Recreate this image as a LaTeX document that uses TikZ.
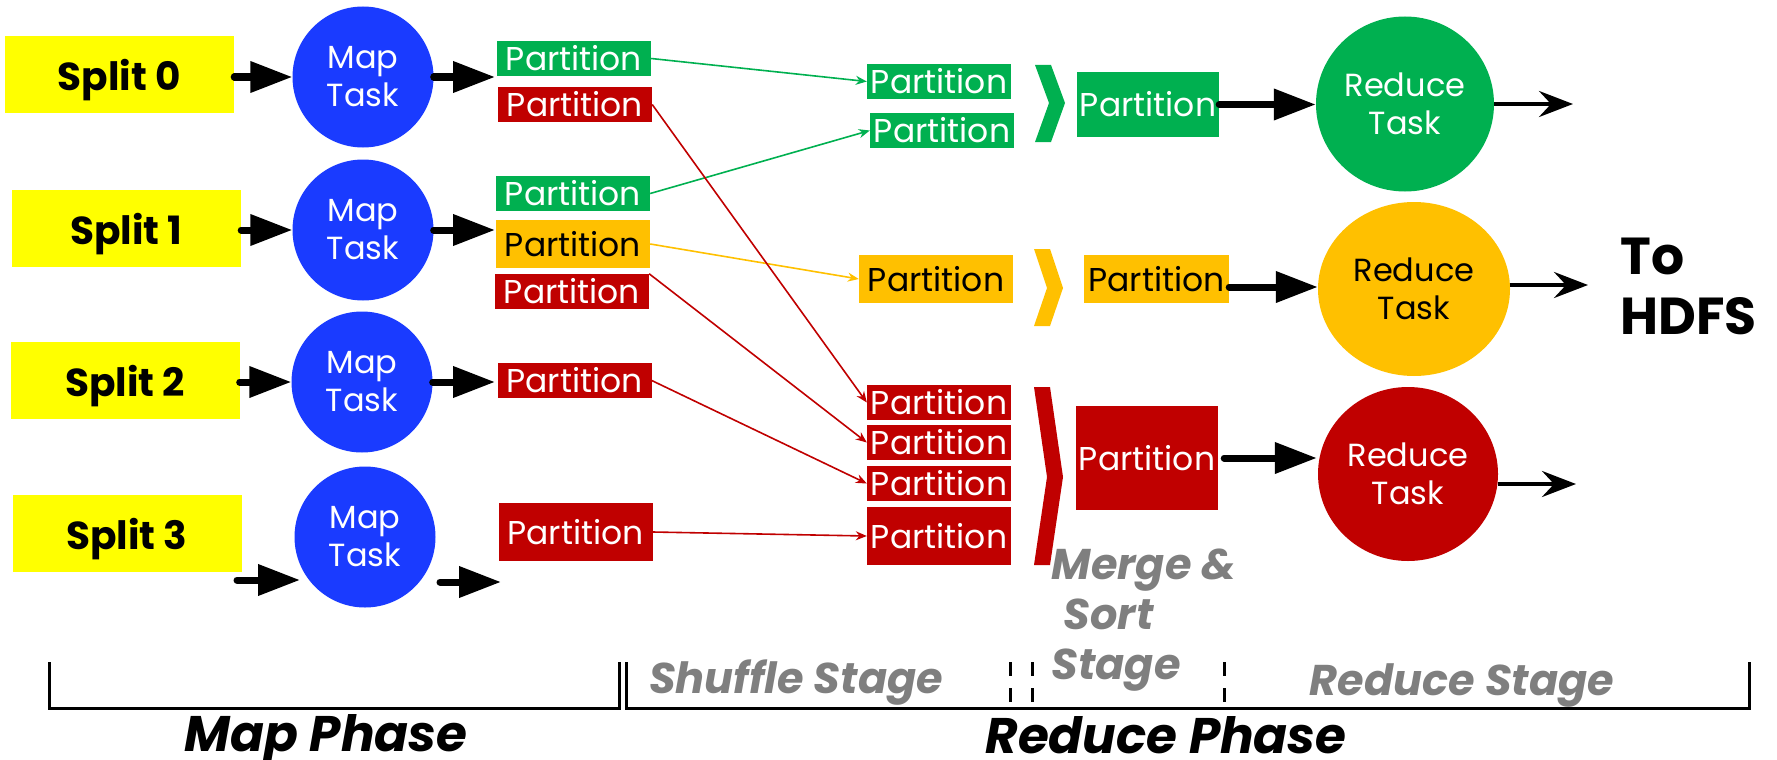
\documentclass[tikz,border=0pt]{standalone}
\usepackage{fontspec}
\setmainfont{Poppins}
\usetikzlibrary{arrows.meta,shapes.geometric}
\definecolor{splitY}{HTML}{FFFF00}
\definecolor{mapB}{HTML}{1A3BFF}
\definecolor{pGreen}{HTML}{00B050}
\definecolor{pRed}{HTML}{C00000}
\definecolor{pOrange}{HTML}{FFC000}
\definecolor{stageGray}{HTML}{7F7F7F}

\begin{document}
\begin{tikzpicture}[x=1pt,y=-1pt,
  splitbox/.style={fill=splitY, inner sep=0pt, minimum width=229pt, minimum height=77pt,
    text depth=0pt, font=\fontsize{39}{42}\selectfont\bfseries},
  maptask/.style={circle, fill=mapB, minimum size=141pt, inner sep=0pt, text=white,
    align=center, font=\fontsize{32}{38}\selectfont},
  redtask/.style={ellipse, inner sep=0pt, align=center, font=\fontsize{32}{38}\selectfont},
  partbox/.style={inner sep=0pt, minimum width=154pt, minimum height=35pt,
    font=\fontsize{33}{36}\selectfont},
  gpart/.style={partbox, fill=pGreen, text=white},
  rpart/.style={partbox, fill=pRed, text=white},
  opart/.style={partbox, fill=pOrange, text=black},
  bigarrow/.style={line width=7pt, line cap=round, -{Triangle[length=42pt,width=30pt]}},
  outarrow/.style={line width=4pt, -{Stealth[length=34pt,width=26pt,inset=12pt]}},
  shuf/.style={line width=1.6pt, -{Stealth[length=11pt,width=9pt]}},
  stagetext/.style={text=stageGray, font=\fontsize{43}{50}\selectfont\bfseries\itshape},
  phasetext/.style={font=\fontsize{50}{56}\selectfont\bfseries\itshape},
  bracket/.style={line width=3pt},
  stagesep/.style={line width=3pt, dash pattern=on 14pt off 12pt}
]
\useasboundingbox (0,0) rectangle (1777,760);

% input splits
\node[splitbox] (split0) at (119.5,74.5) {Split 0};
\node[splitbox] (split1) at (126.5,228.5) {Split 1};
\node[splitbox] (split2) at (125,380.5) {Split 2};
\node[splitbox] (split3) at (127,533.5) {Split 3};

% map tasks
\node[maptask] (map0) at (363,77) {Map\\Task};
\node[maptask] (map1) at (363,230) {Map\\Task};
\node[maptask] (map2) at (362,382) {Map\\Task};
\node[maptask] (map3) at (365,537) {Map\\Task};

% map outputs
\node[gpart] (g0) at (574,58.5) {Partition};
\node[rpart] (r0) at (575,104.5) {Partition};
\node[gpart] (g1) at (573,193.5) {Partition};
\node[opart, minimum height=48pt] (o1) at (573,244) {Partition};
\node[rpart] (r1) at (572,291.5) {Partition};
\node[rpart] (r2) at (574.5,380.5) {Partition};
\node[rpart, minimum height=58pt] (r3) at (575.5,532) {Partition};

% shuffled partitions
\node[gpart, minimum width=144pt] (sga) at (939,81.5) {Partition};
\node[gpart, minimum width=144pt] (sgb) at (942,130.5) {Partition};
\node[opart, minimum height=48pt] (so) at (936,279) {Partition};
\node[rpart, minimum width=144pt] (sra) at (939,402.5) {Partition};
\node[rpart, minimum width=144pt] (srb) at (939,442.5) {Partition};
\node[rpart, minimum width=144pt] (src) at (939,483.5) {Partition};
\node[rpart, minimum width=144pt, minimum height=58pt] (srd) at (939,536) {Partition};

% merge brackets
\fill[pGreen] (1035,65) -- (1051,65) -- (1065,103) -- (1051,142) -- (1035,142) -- (1049,103) -- cycle;
\fill[pOrange] (1034,249) -- (1050,249) -- (1063,288) -- (1050,326) -- (1034,326) -- (1047,288) -- cycle;
\fill[pRed] (1034,387) -- (1050,387) -- (1063,477) -- (1050,565) -- (1034,565) -- (1047,477) -- cycle;

% merged partitions
\node[gpart, minimum width=142pt, minimum height=65pt] (gm) at (1148,104.5) {Partition};
\node[opart, minimum width=145pt, minimum height=48pt] (om) at (1156.5,279) {Partition};
\node[rpart, minimum width=142pt, minimum height=104pt] (rm) at (1147,458) {Partition};

% reduce tasks
\node[redtask, fill=pGreen, text=white, minimum width=178pt, minimum height=175pt] (gred) at (1405,104) {Reduce\\Task};
\node[redtask, fill=pOrange, text=black, minimum width=192pt, minimum height=174pt] (ored) at (1414,289) {Reduce\\Task};
\node[redtask, fill=pRed, text=white, minimum width=180pt, minimum height=174pt] (rred) at (1408,474) {Reduce\\Task};

\node[font=\fontsize{52}{60}\selectfont\bfseries, align=left, anchor=west] (hdfs) at (1617,286) {To\\HDFS};

% free arrow ends
\coordinate (m0o) at (495,77);
\coordinate (m1o) at (495,230);
\coordinate (m2o) at (495,382);
\coordinate (s3a) at (237,580);
\coordinate (s3b) at (300,580);
\coordinate (m3a) at (440,582);
\coordinate (m3b) at (501,582);
\coordinate (gout) at (1573,104);
\coordinate (oout) at (1588,285);
\coordinate (rout) at (1576,484);

% map phase arrows
\draw[bigarrow] (split0.east |- map0.west) -- (map0.west);
\draw[bigarrow] (split1.east |- map1.west) -- (map1.west);
\draw[bigarrow] (split2.east |- map2.west) -- (map2.west);
\draw[bigarrow] (s3a) -- (s3b);
\draw[bigarrow] (map0.east) -- (m0o);
\draw[bigarrow] (map1.east) -- (m1o);
\draw[bigarrow] (map2.east) -- (m2o);
\draw[bigarrow] (m3a) -- (m3b);

% shuffle
\draw[shuf, pGreen] (g0.east) -- (sga.west);
\draw[shuf, pGreen] (g1.east) -- (sgb.west);
\draw[shuf, pOrange] (o1.east) -- (so.west);
\draw[shuf, pRed] (r0.east) -- (sra.west);
\draw[shuf, pRed] (r1.north east) -- (srb.west);
\draw[shuf, pRed] (r2.east) -- (src.west);
\draw[shuf, pRed] (r3.east) -- (srd.west);

% reduce inputs and outputs
\draw[bigarrow] (gm.east) -- (gm.east -| gred.west);
\draw[bigarrow] ([yshift=-8pt]om.east) -- ([yshift=-8pt]om.east -| ored.west);
\draw[bigarrow] ([xshift=6pt]rm.east) -- ([xshift=-1pt]rm.east -| rred.west);
\draw[outarrow] (gred.east) -- (gout);
\draw[outarrow] (oout -| ored.east) -- (oout);
\draw[outarrow] (rout -| rred.east) -- (rout);

% phase brackets and stage separators
\draw[bracket] (49,662) -- (49,708) -- (619,708) -- (619,662);
\draw[bracket] (626,662) -- (626,708) -- (1749,708) -- (1749,662);
\draw[stagesep] (1010,662) -- (1010,708);
\draw[stagesep] (1032,662) -- (1032,708);
\draw[stagesep] (1224,662) -- (1224,708);

\node[stagetext, anchor=base] (shuffle) at (796,693) {Shuffle Stage};
\node[stagetext, anchor=base] (reducest) at (1462,695) {Reduce Stage};
\node[stagetext, align=left, anchor=west] (merge) at (1048,620) {Merge \&\\\hspace*{12pt}Sort\\Stage};
\node[phasetext, anchor=base] (mapph) at (326,751) {Map Phase};
\node[phasetext, anchor=base] (redph) at (1166,753) {Reduce Phase};
\end{tikzpicture}
\end{document}
